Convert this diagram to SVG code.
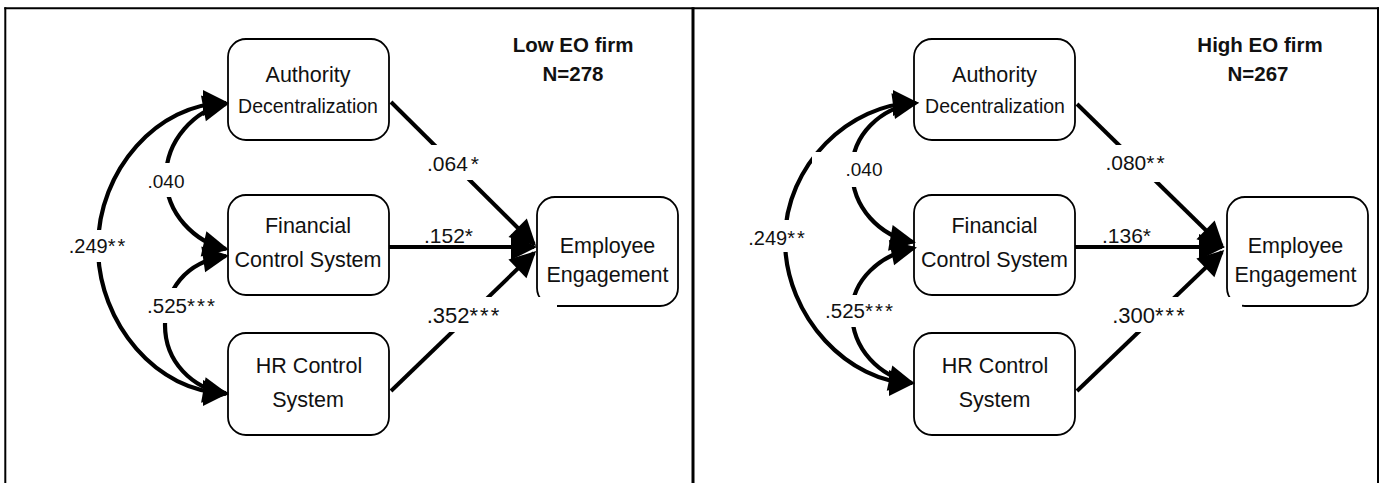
<svg xmlns="http://www.w3.org/2000/svg" width="1385" height="483" viewBox="0 0 1385 483">
  <style>
    .frame { stroke: #000; fill: none; }
    .box { fill: #fff; stroke: #000; stroke-width: 1.8; }
    .node { font-family: "Liberation Sans", Arial, sans-serif; font-size: 21.5px; fill: #111; text-anchor: middle; }
    .small { font-size: 19.5px; }
    .title { font-family: "Liberation Sans", Arial, sans-serif; font-size: 20.5px; font-weight: bold; fill: #111; text-anchor: middle; }
    .coef { font-family: "Liberation Sans", Arial, sans-serif; font-size: 21px; fill: #111; text-anchor: middle; }
    .star { letter-spacing: 2px; }
    .cov { fill: none; stroke: #000; stroke-width: 4.2; marker-start: url(#head); marker-end: url(#head); }
    .path { fill: none; stroke: #000; stroke-width: 4; marker-end: url(#head); }
    .bg { fill: #fff; }
  </style>
  <defs>
    <marker id="head" markerUnits="userSpaceOnUse" markerWidth="40" markerHeight="40" refX="-3" refY="0" orient="auto-start-reverse" overflow="visible">
      <path d="M0,0 L-26,-13 L-26,13 Z" fill="#000"/>
    </marker>
  </defs>

  <rect width="1385" height="483" fill="#fff"/>

  <!-- outer frame split into two panels -->
  <g id="frame">
    <line class="frame" x1="4.3" y1="8.3" x2="1379" y2="8.3" stroke-width="2"/>
    <line class="frame" x1="5.3" y1="7.3" x2="5.3" y2="483" stroke-width="2"/>
    <line class="frame" x1="693" y1="7.3" x2="693" y2="483" stroke-width="3"/>
    <line class="frame" x1="1378" y1="7.3" x2="1378" y2="483" stroke-width="2"/>
  </g>

  <!-- Low EO panel nodes -->
  <g id="low-authority">
    <rect class="box" x="228" y="39" width="161" height="101" rx="18"/>
    <text class="node" x="308" y="82">Authority</text>
    <text class="node small" x="308" y="113">Decentralization</text>
  </g>
  <g id="low-financial">
    <rect class="box" x="228" y="195" width="161" height="100" rx="18"/>
    <text class="node" x="308" y="233">Financial</text>
    <text class="node" x="308" y="267">Control System</text>
  </g>
  <g id="low-hr">
    <rect class="box" x="228" y="333" width="161" height="102" rx="18"/>
    <text class="node" x="309" y="373">HR Control</text>
    <text class="node" x="308" y="407">System</text>
  </g>
  <g id="low-engagement">
    <rect class="box" x="537" y="197" width="141" height="109" rx="18"/>
    <text class="node" x="607.5" y="253">Employee</text>
    <text class="node" x="607.5" y="282">Engagement</text>
  </g>

  <!-- High EO panel nodes -->
  <g id="high-authority">
    <rect class="box" x="914" y="39" width="161" height="101" rx="18"/>
    <text class="node" x="994.5" y="82">Authority</text>
    <text class="node small" x="995" y="113">Decentralization</text>
  </g>
  <g id="high-financial">
    <rect class="box" x="914" y="195" width="161" height="100" rx="18"/>
    <text class="node" x="994.5" y="233">Financial</text>
    <text class="node" x="994.5" y="267">Control System</text>
  </g>
  <g id="high-hr">
    <rect class="box" x="914" y="333" width="161" height="102" rx="18"/>
    <text class="node" x="995" y="373">HR Control</text>
    <text class="node" x="994.5" y="407">System</text>
  </g>
  <g id="high-engagement">
    <rect class="box" x="1227" y="197" width="141" height="109" rx="18"/>
    <text class="node" x="1295.5" y="253">Employee</text>
    <text class="node" x="1295.5" y="282">Engagement</text>
  </g>

  <!-- connectors: covariances (double-headed) and paths to engagement -->
  <g id="connectors">
    <path class="cov" d="M226,103 C158,103 98,170 98,247 C98,324 158,393 226,393"/>
    <path class="cov" d="M226,104 C195,110 166,140 166,177 C166,214 195,242 226,249"/>
    <path class="cov" d="M226,256 C185,262 165,290 165,325 C165,362 192,388 226,394"/>
    <path class="path" d="M391,102 L534,244"/>
    <path class="path" d="M389,247 L534,247"/>
    <path class="path" stroke-width="3.5" d="M391,391 L534,253"/>

    <path class="cov" d="M916,103 C850,103 785,165 785,240 C785,318 850,383 912,383"/>
    <path class="cov" d="M916,103 C880,108 852,135 852,170 C852,208 880,236 913,242"/>
    <path class="cov" d="M914,248 C880,255 852,280 852,312 C852,350 880,376 912,383"/>
    <path class="path" d="M1077,104 L1222,246"/>
    <path class="path" d="M1075,247 L1222,247"/>
    <path class="path" stroke-width="3.5" d="M1077,391 L1222,252"/>
  </g>

  <!-- coefficient labels with white text boxes -->
  <g id="labels">
    <rect class="bg" x="135" y="163" width="65" height="34"/>
    <rect class="bg" x="62" y="230" width="70" height="32"/>
    <rect class="bg" x="140" y="288" width="82" height="35"/>
    <rect class="bg" x="420" y="145" width="70" height="35"/>
    <rect class="bg" x="420" y="297" width="137" height="35"/>
    <text class="coef" x="454" y="171">.064<tspan class="star" dx="3">*</tspan></text>
    <text class="coef" x="449.5" y="243">.152<tspan class="star">*</tspan></text>
    <text class="coef" x="464" y="323" style="font-size:22px">.352<tspan class="star">***</tspan></text>
    <text class="coef" x="166" y="188" style="font-size:19px">.040</text>
    <text class="coef" x="98" y="253" style="font-size:20px">.249<tspan class="star">**</tspan></text>
    <text class="coef" x="182" y="313" style="font-size:20.5px">.525<tspan class="star">***</tspan></text>

    <rect class="bg" x="812" y="152" width="88" height="35"/>
    <rect class="bg" x="742" y="220" width="68" height="32"/>
    <rect class="bg" x="820" y="295" width="85" height="32"/>
    <rect class="bg" x="1100" y="145" width="70" height="37"/>
    <rect class="bg" x="1105" y="297" width="137" height="35"/>
    <text class="coef" x="1136" y="170">.080<tspan class="star">**</tspan></text>
    <text class="coef" x="1127.5" y="243">.136<tspan class="star">*</tspan></text>
    <text class="coef" x="1149.5" y="323" style="font-size:22px">.300<tspan class="star">***</tspan></text>
    <text class="coef" x="864" y="176" style="font-size:19px">.040</text>
    <text class="coef" x="777.5" y="245" style="font-size:20px">.249<tspan class="star">**</tspan></text>
    <text class="coef" x="860" y="318" style="font-size:20.5px">.525<tspan class="star">***</tspan></text>
  </g>

  <!-- panel titles -->
  <g id="titles">
    <text class="title" x="573" y="52">Low EO firm</text>
    <text class="title" x="573" y="81">N=278</text>
    <text class="title" x="1260" y="52">High EO firm</text>
    <text class="title" x="1258" y="81">N=267</text>
  </g>
</svg>
